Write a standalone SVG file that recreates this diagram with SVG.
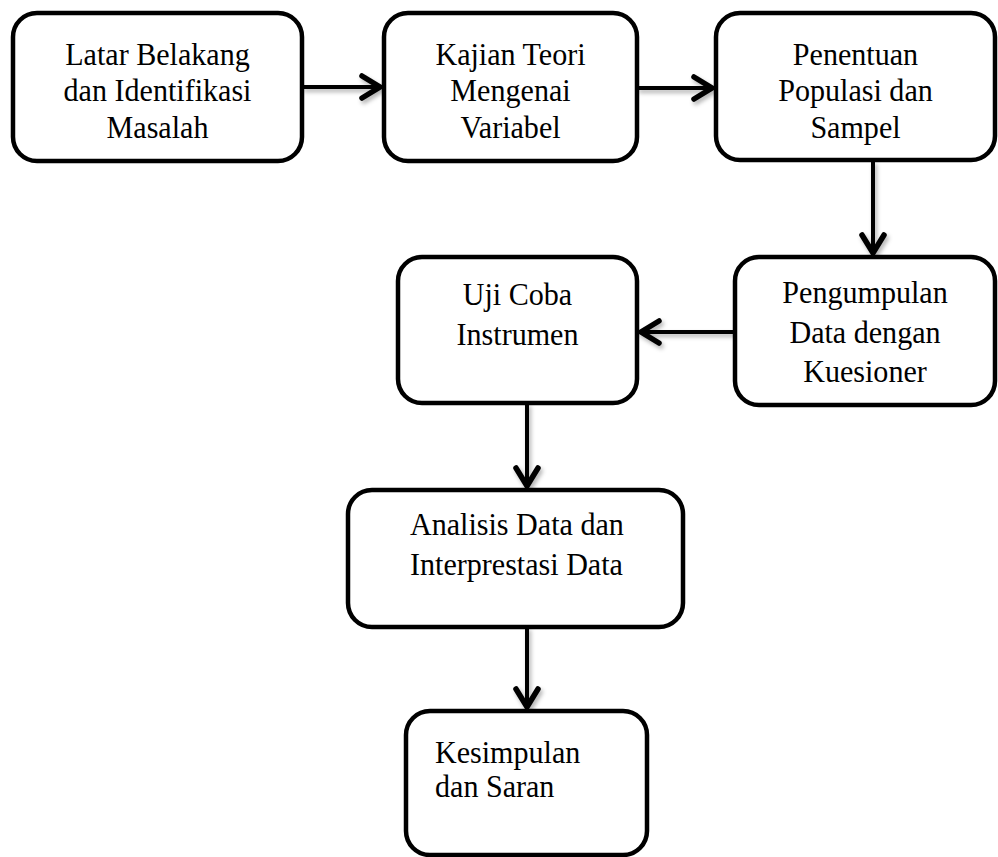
<svg xmlns="http://www.w3.org/2000/svg" width="998" height="857" viewBox="0 0 998 857">
  <style>
    .box { fill: #ffffff; stroke: #000000; stroke-width: 4.5; }
    .lbl { font-family: "Liberation Serif", "Times New Roman", serif; font-size: 32px; fill: #000000; }
    .c { text-anchor: middle; }
    .conn { stroke: #000000; stroke-width: 4; fill: none; marker-end: url(#arrow); }
  </style>
  <defs>
    <marker id="arrow" markerUnits="userSpaceOnUse" viewBox="-26 -16 32 32" markerWidth="32" markerHeight="32" refX="0" refY="0" orient="auto">
      <path d="M -18,-11 L 0,0 L -18,11" fill="none" stroke="#000000" stroke-width="5.5" stroke-linecap="round" stroke-linejoin="miter"/>
    </marker>
    <filter id="shadow" x="-20%" y="-20%" width="140%" height="160%">
      <feDropShadow dx="2" dy="3" stdDeviation="2" flood-color="#000000" flood-opacity="0.3"/>
    </filter>
  </defs>
  <rect width="998" height="857" fill="#ffffff"/>

  <g id="connectors" filter="url(#shadow)">
    <line class="conn" x1="302" y1="87" x2="380" y2="87"/>
    <line class="conn" x1="637" y1="88" x2="712" y2="88"/>
    <line class="conn" x1="873" y1="161" x2="873" y2="253"/>
    <line class="conn" x1="735" y1="332" x2="641" y2="332"/>
    <line class="conn" x1="527" y1="403" x2="527" y2="486"/>
    <line class="conn" x1="527" y1="627" x2="527" y2="707"/>
  </g>

  <g id="node-latar">
    <rect class="box" x="13" y="13" width="289" height="148" rx="24"/>
    <g transform="translate(157.5 0) scale(0.94 1)">
      <text class="lbl c" x="0" y="65">Latar Belakang</text>
      <text class="lbl c" x="0" y="101">dan Identifikasi</text>
      <text class="lbl c" x="0" y="138">Masalah</text>
    </g>
  </g>
  <g id="node-kajian">
    <rect class="box" x="384" y="13" width="253" height="148" rx="24"/>
    <g transform="translate(510.5 0) scale(0.94 1)">
      <text class="lbl c" x="0" y="65">Kajian Teori</text>
      <text class="lbl c" x="0" y="101">Mengenai</text>
      <text class="lbl c" x="0" y="138">Variabel</text>
    </g>
  </g>
  <g id="node-penentuan">
    <rect class="box" x="716" y="13" width="279" height="147" rx="24"/>
    <g transform="translate(855.5 0) scale(0.94 1)">
      <text class="lbl c" x="0" y="65">Penentuan</text>
      <text class="lbl c" x="0" y="101">Populasi dan</text>
      <text class="lbl c" x="0" y="138">Sampel</text>
    </g>
  </g>
  <g id="node-pengumpulan">
    <rect class="box" x="735" y="257" width="260" height="148" rx="24"/>
    <g transform="translate(865 0) scale(0.94 1)">
      <text class="lbl c" x="0" y="303">Pengumpulan</text>
      <text class="lbl c" x="0" y="343">Data dengan</text>
      <text class="lbl c" x="0" y="382">Kuesioner</text>
    </g>
  </g>
  <g id="node-ujicoba">
    <rect class="box" x="398" y="257" width="239" height="146" rx="24"/>
    <g transform="translate(517.5 0) scale(0.94 1)">
      <text class="lbl c" x="0" y="305">Uji Coba</text>
      <text class="lbl c" x="0" y="345">Instrumen</text>
    </g>
  </g>
  <g id="node-analisis">
    <rect class="box" x="348" y="490" width="335" height="137" rx="24"/>
    <g transform="translate(410 0) scale(0.94 1)">
      <text class="lbl" x="0" y="535">Analisis Data dan</text>
      <text class="lbl" x="0" y="575">Interprestasi Data</text>
    </g>
  </g>
  <g id="node-kesimpulan">
    <rect class="box" x="406" y="711" width="241" height="144" rx="24"/>
    <g transform="translate(435 0) scale(0.94 1)">
      <text class="lbl" x="0" y="763">Kesimpulan</text>
      <text class="lbl" x="0" y="797">dan Saran</text>
    </g>
  </g>
</svg>
